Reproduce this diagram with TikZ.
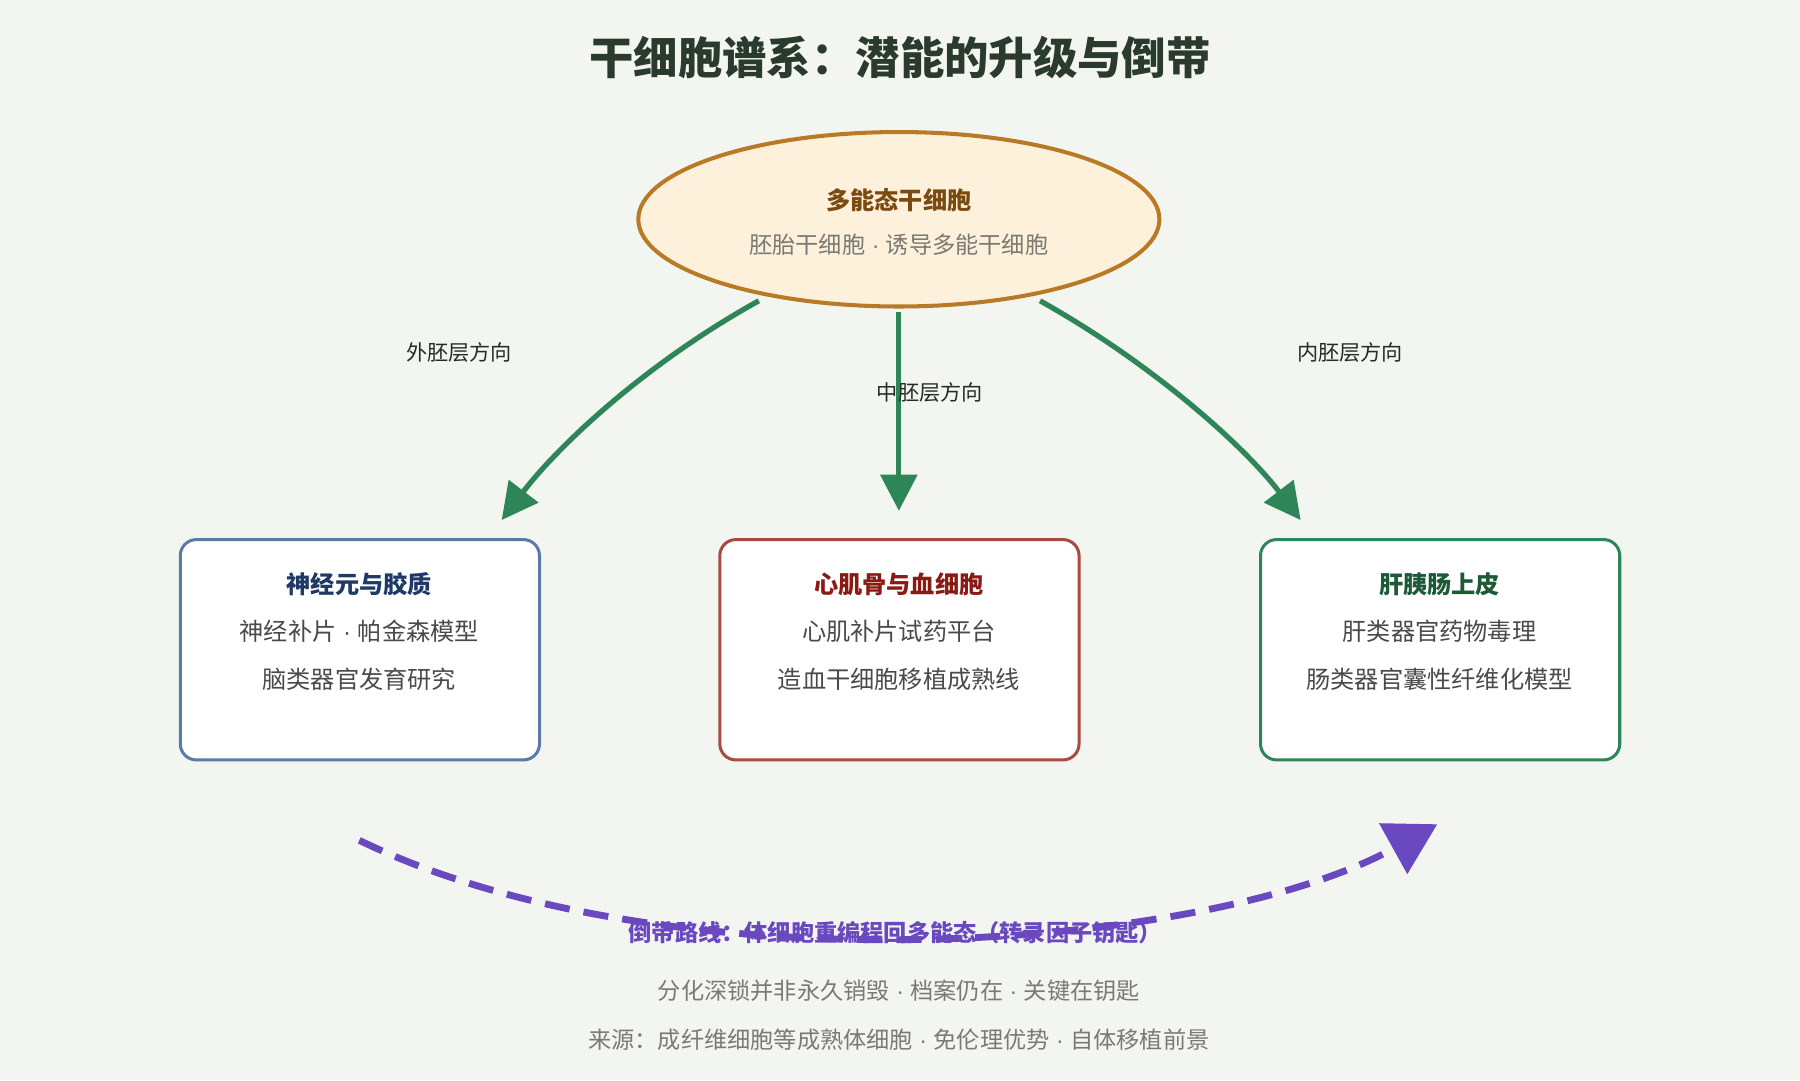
\documentclass[tikz,border=0pt]{standalone}
\usepackage{fontspec}
\setmainfont{Noto Sans CJK SC}
\newfontfamily\latn{Liberation Sans}
\newcommand{\md}{{\latn\ ·\ }}
\usetikzlibrary{arrows.meta,shapes.geometric}
\definecolor{bg}{HTML}{F3F5F0}
\definecolor{ttl}{HTML}{2A3A2C}
\definecolor{egfill}{HTML}{FEF1DC}
\definecolor{egline}{HTML}{B87A25}
\definecolor{egtext}{HTML}{7A4A10}
\definecolor{grn}{HTML}{2E8558}
\definecolor{purp}{HTML}{6A48C0}
\definecolor{gtxt}{HTML}{7A7A72}
\definecolor{btxt}{HTML}{4A4A4A}
\definecolor{blue}{HTML}{5B7BA6}
\definecolor{blued}{HTML}{1F3A66}
\definecolor{red}{HTML}{A84A40}
\definecolor{redd}{HTML}{8A1A14}
\definecolor{green2}{HTML}{2E8558}
\definecolor{greend}{HTML}{1C5A38}
\begin{document}
\begin{tikzpicture}[x=0.02cm,y=-0.02cm,
  box/.style={draw,line width=1.5pt,fill=white,rounded corners=8pt,minimum width=6.26cm,minimum height=3.84cm},
  garr/.style={draw=grn,line width=2.6pt,-{Triangle[length=18pt,width=18pt]}},
  lab/.style={font=\fontsize{10.5}{12}\selectfont,text=ttl!80!black},
  hd/.style={font=\fontsize{12}{14}\selectfont\bfseries},
  bt/.style={font=\fontsize{12}{14}\selectfont,text=btxt}]
\fill[bg] (0,0) rectangle (1568,941);
\useasboundingbox (0,0) rectangle (1568,941);
\node[font=\fontsize{22}{26}\selectfont\bfseries,text=ttl] (title) at (784,50) {干细胞谱系：潜能的升级与倒带};
\node[ellipse,draw=egline,fill=egfill,line width=2pt,minimum width=9.08cm,minimum height=3.04cm] (top) at (783,191) {};
\node[hd,text=egtext] (toph) at (783,174) {多能态干细胞};
\node[font=\fontsize{11.5}{14}\selectfont,text=gtxt] (topt) at (783,213) {胚胎干细胞\md 诱导多能干细胞};
\node[box,draw=blue] (L) at (313.5,566) {};
\node[box,draw=red] (M) at (783.5,566) {};
\node[box,draw=green2] (R) at (1254.5,566) {};
\node[hd,text=blued] (Lh) at (313,509) {神经元与胶质};
\node[bt] (L1) at (313,550) {神经补片\md 帕金森模型};
\node[bt] (L2) at (313,592) {脑类器官发育研究};
\node[hd,text=redd] (Mh) at (783,509) {心肌骨与血细胞};
\node[bt] (M1) at (783,550) {心肌补片试药平台};
\node[bt] (M2) at (783,592) {造血干细胞移植成熟线};
\node[hd,text=greend] (Rh) at (1254,509) {肝胰肠上皮};
\node[bt] (R1) at (1254,550) {肝类器官药物毒理};
\node[bt] (R2) at (1254,592) {肠类器官囊性纤维化模型};
\coordinate (a1) at (661,262); \coordinate (b1) at (437,453);
\coordinate (a2) at (783,272); \coordinate (b2) at (783,445);
\coordinate (a3) at (906,262); \coordinate (b3) at (1133,453);
\draw[garr] (a1) .. controls (560,318) and (485,390) .. (b1);
\draw[garr] (a2) -- (b2);
\draw[garr] (a3) .. controls (1006,318) and (1085,390) .. (b3);
\node[lab] (l1) at (400,307) {外胚层方向};
\node[lab] (l2) at (810,342) {中胚层方向};
\node[lab] (l3) at (1176,307) {内胚层方向};
\coordinate (p1) at (313,732); \coordinate (p2) at (1252,718);
\draw[purp,line width=3.4pt,dash pattern=on 12.5pt off 7pt,-{Triangle[length=25pt,width=28pt]}] (p1) .. controls (580,862) and (1050,830) .. (p2);
\node[font=\fontsize{11.5}{13}\selectfont\bfseries,text=purp] (rw) at (780,812) {倒带路线：体细胞重编程回多能态（转录因子钥匙）};
\node[font=\fontsize{11.5}{14}\selectfont,text=gtxt] (n1) at (783,863) {分化深锁并非永久销毁\md 档案仍在\md 关键在钥匙};
\node[font=\fontsize{11.5}{14}\selectfont,text=gtxt] (n2) at (783,906) {来源：成纤维细胞等成熟体细胞\md 免伦理优势\md 自体移植前景};
\end{tikzpicture}
\end{document}
